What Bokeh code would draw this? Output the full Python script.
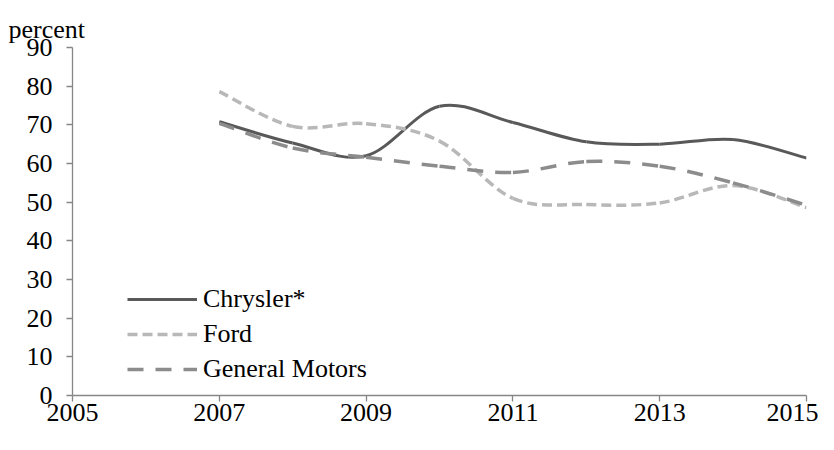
from bokeh.plotting import figure
from bokeh.models import FixedTicker, Legend, LegendItem, Title, Range1d
from bokeh.embed import file_html
from bokeh.resources import INLINE

years = [2007, 2008, 2009, 2010, 2011, 2012, 2013, 2014, 2015]
chrysler = [70.8, 65.3, 62.0, 74.8, 70.6, 65.6, 65.0, 66.2, 61.4]
ford = [78.6, 69.6, 70.3, 65.8, 51.0, 49.4, 49.8, 54.3, 48.6]
gm = [70.4, 64.0, 61.6, 59.3, 57.7, 60.5, 59.3, 55.0, 49.2]
series_names = ["Chrysler*", "Ford", "General Motors"]
x_ticks = [2005, 2007, 2009, 2011, 2013, 2015]
y_ticks = [0, 10, 20, 30, 40, 50, 60, 70, 80, 90]
unit_label = "percent"

FONT = "Liberation Serif"
FS = "26px"


def smooth_segments(xs, ys):
    """Cubic Bezier segments (Catmull-Rom style, as in spreadsheet 'smoothed line')."""
    n = len(xs)
    out = dict(x0=[], y0=[], x1=[], y1=[], cx0=[], cy0=[], cx1=[], cy1=[])
    for i in range(n - 1):
        xp, yp = (xs[i - 1], ys[i - 1]) if i > 0 else (xs[i], ys[i])
        xn, yn = (xs[i + 2], ys[i + 2]) if i + 2 < n else (xs[i + 1], ys[i + 1])
        out["x0"].append(xs[i]); out["y0"].append(ys[i])
        out["x1"].append(xs[i + 1]); out["y1"].append(ys[i + 1])
        out["cx0"].append(xs[i] + (xs[i + 1] - xp) / 6.0)
        out["cy0"].append(ys[i] + (ys[i + 1] - yp) / 6.0)
        out["cx1"].append(xs[i + 1] - (xn - xs[i]) / 6.0)
        out["cy1"].append(ys[i + 1] - (yn - ys[i]) / 6.0)
    return out


p = figure(width=818, height=434, output_backend="svg", toolbar_location=None,
           x_range=Range1d(2005, 2015), y_range=Range1d(0, 90),
           min_border_left=72, min_border_right=12, min_border_top=47, min_border_bottom=39)
p.outline_line_color = None
p.xgrid.visible = False
p.ygrid.visible = False

styles = [
    dict(color="#595959", width=3.0, dash="solid"),
    dict(color="#b8b8b8", width=3.5, dash="10 5"),
    dict(color="#8c8c8c", width=3.5, dash="16 12"),
]

items = []
for name, vals, st in zip(series_names, [chrysler, ford, gm], styles):
    seg = smooth_segments(years, vals)
    p.bezier(x0=seg["x0"], y0=seg["y0"], x1=seg["x1"], y1=seg["y1"],
             cx0=seg["cx0"], cy0=seg["cy0"], cx1=seg["cx1"], cy1=seg["cy1"],
             line_color=st["color"], line_width=st["width"], line_dash=st["dash"])
    r = p.line(years, vals, line_color=st["color"], line_width=st["width"], line_dash=st["dash"])
    r.visible = False
    items.append(LegendItem(label=name, renderers=[r]))

legend = Legend(items=items, location=(55, 11), orientation="vertical",
                glyph_width=70, glyph_height=30, label_height=30, spacing=5,
                padding=0, margin=0, label_standoff=6,
                label_text_font=FONT, label_text_font_size=FS, label_text_color="black",
                background_fill_alpha=0, border_line_alpha=0, click_policy="none")
p.add_layout(legend, "center")

for ax in (p.xaxis[0], p.yaxis[0]):
    ax.axis_line_color = "#868686"
    ax.axis_line_width = 1.3
    ax.major_tick_line_color = "#868686"
    ax.major_tick_line_width = 1.3
    ax.major_tick_in = 0
    ax.major_tick_out = 6
    ax.minor_tick_line_color = None
    ax.major_label_text_font = FONT
    ax.major_label_text_font_size = FS
    ax.major_label_text_color = "black"

p.xaxis[0].ticker = FixedTicker(ticks=x_ticks)
p.yaxis[0].ticker = FixedTicker(ticks=y_ticks)
p.xaxis[0].major_label_standoff = 2
p.yaxis[0].major_label_standoff = 14

title = Title(text=unit_label, align="left", vertical_align="top", offset=-64, standoff=4,
              text_font=FONT, text_font_size=FS, text_font_style="normal", text_color="black")
p.add_layout(title, "above")

open("out.html", "w").write(file_html(p, INLINE))
